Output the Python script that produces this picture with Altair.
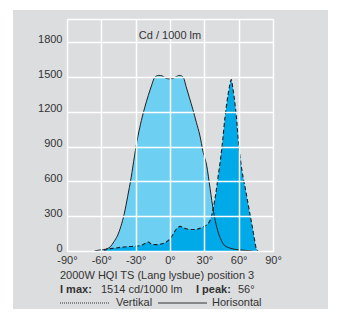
import altair as alt
import pandas as pd

# Horisontal (solid) curve: angle (deg) -> cd/1000 lm
H_ANGLE = [-66, -62, -58, -55, -52, -49, -46, -43, -40, -37, -34, -31, -28, -25, -22,
           -19, -16, -14, -12, -10, -7, -4, -1, 2, 5, 8, 10, 12, 14, 17, 20, 23, 26,
           29, 32, 35, 38, 41, 44, 47, 51, 55, 60, 66, 72]
H_CD = [0, 8, 12, 20, 38, 80, 130, 210, 320, 470, 630, 820, 990, 1125, 1240,
        1340, 1430, 1485, 1508, 1514, 1510, 1492, 1484, 1486, 1500, 1514, 1510, 1490, 1420, 1320, 1220, 1110, 1000,
        850, 740, 540, 340, 200, 110, 55, 30, 18, 10, 5, 0]

# Vertikal (dashed) curve
V_ANGLE = [-58, -54, -48, -42, -36, -30, -25, -21, -19, -16, -12, -7, -3, 0, 3, 6, 9, 11,
           14, 18, 22, 26, 29, 32, 34, 36, 38, 40, 42, 44, 46, 48, 50, 52, 53.5, 55, 57,
           58, 59, 60, 61, 62, 63, 64, 66, 68, 70, 72, 74, 75, 76, 77]
V_CD = [0, 18, 25, 33, 38, 42, 50, 70, 78, 58, 55, 62, 80, 105, 150, 195, 212, 205,
        192, 185, 185, 195, 210, 225, 245, 290, 380, 494, 640, 780, 950, 1150, 1300, 1420, 1478, 1400, 1250,
        1160, 1040, 920, 830, 755, 685, 630, 530, 420, 310, 206, 90, 35, 12, 0]

X_TICKS = [-90, -60, -30, 0, 30, 60, 90]
Y_TICKS = [0, 300, 600, 900, 1200, 1500, 1800, 2000]

GRAY = "#dcdddf"
LIGHT = "#6dcff2"
DARK = "#00a9e8"
INK = "#333333"
LINE = "#1f1f1f"
FONT = "Liberation Sans"

h = pd.DataFrame({"angle": H_ANGLE, "cd": H_CD})
v = pd.DataFrame({"angle": V_ANGLE, "cd": V_CD})
one = pd.DataFrame({"k": [0]})

xs = alt.Scale(domain=[-90, 90], nice=False, zero=False)
ys = alt.Scale(domain=[0, 2000], nice=False)

x_axis = alt.Axis(values=X_TICKS, labelExpr="datum.value + '°'", grid=True,
                  gridColor="white", gridWidth=1.5, gridOpacity=1, domain=False,
                  ticks=False, labelPadding=3, labelFontSize=11, labelColor=INK,
                  labelFont=FONT, title=None, zindex=1, labelFlush=False)
y_axis = alt.Axis(values=Y_TICKS, labelExpr="datum.value == 2000 ? '' : datum.label",
                  format="d", grid=True, gridColor="white", gridWidth=1.5, gridOpacity=1,
                  domain=False, ticks=False, labelPadding=5, labelFontSize=11,
                  labelColor=INK, labelFont=FONT, title=None, zindex=1, labelOffset=-3,
                  labelFlush=False)

X = alt.X("angle:Q", scale=xs, axis=x_axis)
Y = alt.Y("cd:Q", scale=ys, axis=y_axis)

panel = alt.Chart(one).mark_rect(color=GRAY).encode(
    x=alt.value(-54), x2=alt.value(261), y=alt.value(-9), y2=alt.value(290))

h_area = alt.Chart(h).mark_area(color=LIGHT, opacity=1, interpolate="monotone").encode(x=X, y=Y)
v_area = alt.Chart(v).mark_area(color=DARK, opacity=1, interpolate="monotone").encode(x=X, y=Y)
h_line = alt.Chart(h).mark_line(color=LINE, strokeWidth=1, interpolate="monotone").encode(x=X, y=Y)
v_line = alt.Chart(v).mark_line(color=LINE, strokeWidth=1.1, strokeDash=[4, 2.5],
                                interpolate="monotone").encode(x=X, y=Y)


def txt(s, x, y, bold=False, size=11, align="left"):
    return alt.Chart(one).mark_text(
        text=s, align=align, baseline="middle", font=FONT, fontSize=size,
        fontWeight="bold" if bold else "normal", color=INK
    ).encode(x=alt.value(x), y=alt.value(y))


def rule(x1, x2, y, dash=None):
    kw = dict(color=INK, strokeWidth=1)
    if dash:
        kw["strokeDash"] = dash
    return alt.Chart(one).mark_rule(**kw).encode(
        x=alt.value(x1), x2=alt.value(x2), y=alt.value(y))


texts = [
    txt("2000W HQI TS (Lang lysbue) position 3", -7, 257),
    txt("I max:", -7, 271, bold=True),
    txt("1514 cd/1000 lm", 34, 271),
    txt("I peak:", 129, 271, bold=True),
    txt("56°", 171, 271),
    rule(-7, 43, 284, dash=[1, 1]),
    txt("Vertikal", 49, 284),
    rule(91, 140, 284),
    txt("Horisontal", 145, 284),
]

chart = alt.layer(panel, h_area, v_area, h_line, v_line, *texts).properties(
    width=206, height=232,
    title=alt.TitleParams("Cd / 1000 lm", anchor="middle", orient="top", offset=-15,
                          frame="group", baseline="middle", font=FONT, fontSize=11,
                          fontWeight="normal", color=INK, dy=22, zindex=2),
    padding={"left": 59, "top": 11, "right": 56, "bottom": 61},
    autosize="none", background="white"
).configure_view(stroke=None)

chart.save("out.html", embed_options={"renderer": "svg", "actions": False})
